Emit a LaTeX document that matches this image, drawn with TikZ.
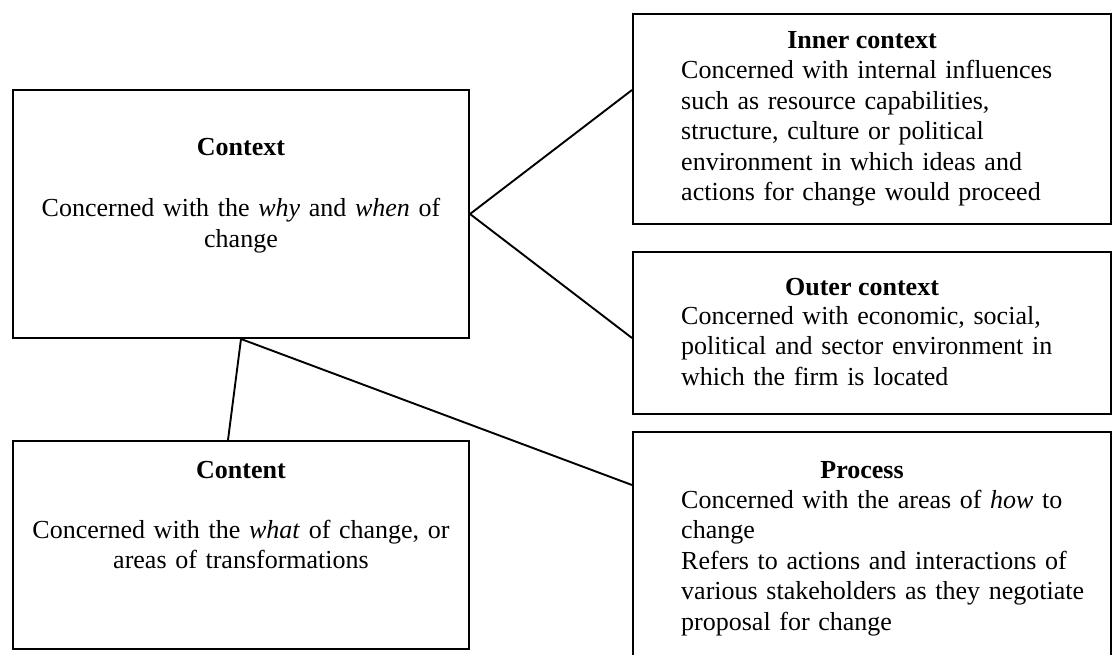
\documentclass[tikz,border=0pt]{standalone}
\usepackage{fontspec}
\setmainfont{Liberation Serif}
\begin{document}
\begin{tikzpicture}[x=1pt,y=-1pt,
  box/.style={draw, line width=2pt, inner sep=0pt, rectangle},
  link/.style={line width=1.9pt},
  txt/.style={font=\fontsize{26}{30.5}\selectfont, inner sep=0pt},
  title/.style={txt, font=\fontsize{26}{30.5}\selectfont\bfseries, anchor=base},
  centrebody/.style={txt, text width=440pt, align=center, anchor=base},
  leftbody/.style={txt, text width=425pt, align=left, anchor=base west}]
\useasboundingbox (0,0) rectangle (1114,655);

% boxes
\node[box, minimum width=456pt, minimum height=248pt] (context) at (241,214) {};
\node[box, minimum width=478pt, minimum height=210pt] (inner)   at (872,119) {};
\node[box, minimum width=478pt, minimum height=162pt] (outer)   at (872,333) {};
\node[box, minimum width=456pt, minimum height=208pt] (content) at (241,545) {};
\node[box, minimum width=478pt, minimum height=234pt] (process) at (872,549) {};

% connectors
\draw[link] ([yshift=29pt]inner.west) -- (context.east) -- ([yshift=-5pt]outer.west);
\draw[link] ([xshift=-13pt]content.north) -- (context.south) -- ([yshift=64pt]process.west);

% Context
\node[title] (contextT) at (241,156) {Context};
\node[centrebody] (contextB) at (241,217)
  {Concerned with the \textit{why} and \textit{when} of\\ change};

% Inner context
\node[title] (innerT) at (862,49) {Inner context};
\node[leftbody] (innerB) at (681,79)
  {Concerned with internal influences\\
   such as resource capabilities,\\
   structure, culture or political\\
   environment in which ideas and\\
   actions for change would proceed};

% Outer context
\node[title] (outerT) at (862,295) {Outer context};
\node[leftbody] (outerB) at (681,324)
  {Concerned with economic, social,\\
   political and sector environment in\\
   which the firm is located};

% Content
\node[title] (contentT) at (241,478) {Content};
\node[centrebody] (contentB) at (241,538)
  {Concerned with the \textit{what} of change, or\\ areas of transformations};

% Process
\node[title] (processT) at (862,478) {Process};
\node[leftbody] (processB) at (681,508)
  {Concerned with the areas of \textit{how} to\\
   change\\
   Refers to actions and interactions of\\
   various stakeholders as they negotiate\\
   proposal for change};
\end{tikzpicture}
\end{document}
